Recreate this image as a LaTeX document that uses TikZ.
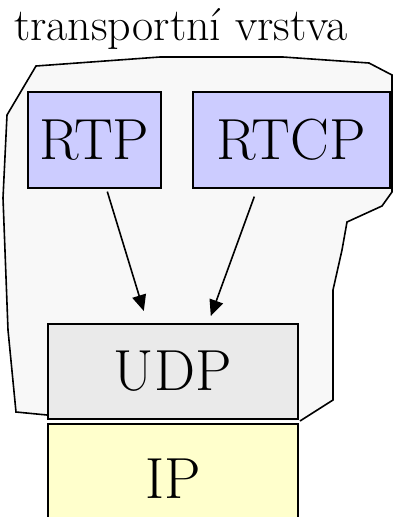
\documentclass[tikz,border=0pt]{standalone}
\usepackage{fontspec}
\usepackage{tikz}
\usetikzlibrary{arrows.meta, positioning}
\definecolor{protocolcolor}{RGB}{204,204,255}
\definecolor{udpcolor}{RGB}{234,234,234}
\definecolor{ipcolor}{RGB}{255,255,204}
\definecolor{layercolor}{RGB}{248,248,248}

\begin{document}
\begin{tikzpicture}[
    x=1pt, y=-1pt,
    box/.style={draw, line width=1.6pt, inner sep=0pt, font=\fontsize{58}{58}\selectfont, anchor=north west},
    arrow/.style={-{Triangle[length=16pt, width=14pt]}, line width=1.6pt}
]
    \useasboundingbox (0,0) rectangle (394,517);

    % Layer outline
    \draw[fill=layercolor, line width=1.6pt] (47,415) -- (16,412) -- (8,330) -- (3,198) -- (7,115)
        -- (36,66) -- (160,57) -- (283,57) -- (369,63) -- (392,75) -- (392,192)
        -- (382,206) -- (347,222) -- (342,250) -- (333,290) -- (333,400) -- (300,421);
    \node[anchor=base west, font=\fontsize{46}{46}\selectfont, inner sep=0pt] (title) at (14,40) {transportní vrstva};

    % Protocol boxes
    \node[box, fill=protocolcolor, minimum width=133pt, minimum height=96pt] (rtp) at (27,91) {RTP};
    \node[box, fill=protocolcolor, minimum width=197pt, minimum height=96pt] (rtcp) at (192,91) {RTCP};
    \node[box, fill=udpcolor, minimum width=250pt, minimum height=95pt] (udp) at (47,323) {UDP};
    \node[box, fill=ipcolor, minimum width=250pt, minimum height=110pt] (ip) at (47,423) {IP};

    % Arrows
    \draw[arrow] ([xshift=13pt, yshift=-3pt]rtp.south) -- ([xshift=-29pt, yshift=12pt]udp.north);
    \draw[arrow] ([xshift=-37pt, yshift=-8pt]rtcp.south) -- ([xshift=38pt, yshift=7pt]udp.north);
\end{tikzpicture}
\end{document}
